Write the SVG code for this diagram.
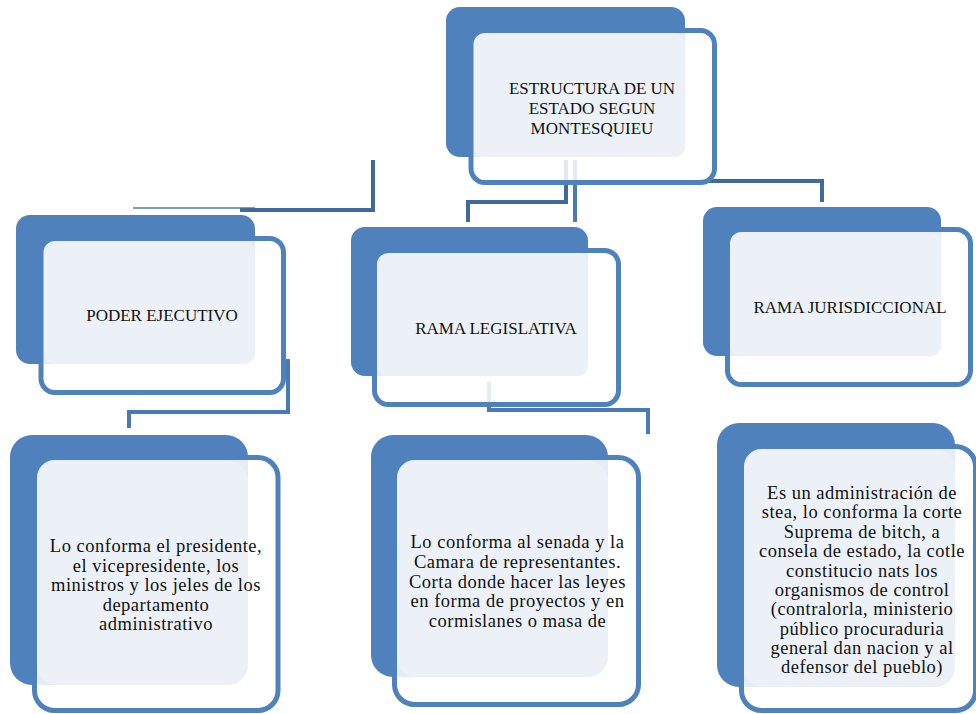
<svg xmlns="http://www.w3.org/2000/svg" width="976" height="714" viewBox="0 0 976 714">
<style>
.dk{fill:#4F81BD}
.lt{fill:#ECF1F8}
.wb{fill:#FFFFFF;fill-opacity:0.85;stroke:none}
.ol{fill:none;stroke:#4F81BD;stroke-width:5}
.c1{fill:none;stroke:#41699D;stroke-width:4}
.c2{fill:none;stroke:#4A7AB6;stroke-width:4}
.c3{fill:none;stroke:#7C9CC8;stroke-width:2}
.t{font-family:"Liberation Serif","Times New Roman",serif;font-size:17px;fill:#111;text-anchor:middle}
.b{font-family:"Liberation Serif","Times New Roman",serif;font-size:18.5px;letter-spacing:0.5px;fill:#111;text-anchor:middle}
</style>
<rect width="976" height="714" fill="#FFFFFF"/>
<g id="connectors">
<path class="c3" d="M133,208 H255"/>
<path class="c1" d="M240,210 H373 V160"/>
<path class="c1" d="M468,222 V202 H566 V160"/>
<path class="c2" d="M575,160 V222"/>
<path class="c1" d="M700,181 H822 V202"/>
<path class="c2" d="M288,359 V412 H129 V428"/>
<path class="c2" d="M489,382 V410 H648 V434"/>
</g>
<g id="n0">
<rect class="dk" x="446" y="7" width="239" height="150" rx="14"/>
<rect class="wb" x="471" y="30.5" width="243.5" height="152" rx="14"/>
<rect class="lt" x="473.5" y="33" width="211.5" height="124" rx="10"/>
<rect class="ol" x="471" y="30.5" width="243.5" height="152" rx="14"/>
<text class="t" x="592" y="94">ESTRUCTURA DE UN</text>
<text class="t" x="592" y="114">ESTADO SEGUN</text>
<text class="t" x="592" y="134">MONTESQUIEU</text>
</g>
<g id="n1">
<rect class="dk" x="16" y="215" width="239" height="149" rx="14"/>
<rect class="wb" x="41" y="238.5" width="242.5" height="154" rx="14"/>
<rect class="lt" x="43.5" y="241" width="211.5" height="123" rx="10"/>
<rect class="ol" x="41" y="238.5" width="242.5" height="154" rx="14"/>
<text class="t" x="162" y="321">PODER EJECUTIVO</text>
</g>
<g id="n2">
<rect class="dk" x="351" y="227" width="237" height="149" rx="14"/>
<rect class="wb" x="374.5" y="250.5" width="244" height="154" rx="14"/>
<rect class="lt" x="377" y="253" width="211" height="123" rx="10"/>
<rect class="ol" x="374.5" y="250.5" width="244" height="154" rx="14"/>
<text class="t" x="496" y="334">RAMA LEGISLATIVA</text>
</g>
<g id="n3">
<rect class="dk" x="703" y="207" width="238" height="149" rx="14"/>
<rect class="wb" x="727.5" y="229.5" width="243" height="155" rx="14"/>
<rect class="lt" x="730" y="232" width="211" height="124" rx="10"/>
<rect class="ol" x="727.5" y="229.5" width="243" height="155" rx="14"/>
<text class="t" x="850" y="313">RAMA JURISDICCIONAL</text>
</g>
<g id="n4">
<rect class="dk" x="10" y="435" width="238" height="250" rx="22"/>
<rect class="wb" x="34.5" y="457.5" width="243.5" height="253" rx="20"/>
<rect class="lt" x="37" y="461" width="211" height="224" rx="20"/>
<rect class="ol" x="34.5" y="457.5" width="243.5" height="253" rx="20"/>
<text class="b" x="156" y="552">Lo conforma el presidente,</text>
<text class="b" x="156" y="572">el vicepresidente, los</text>
<text class="b" x="156" y="591">ministros y los jeles de los</text>
<text class="b" x="156" y="611">departamento</text>
<text class="b" x="156" y="630">administrativo</text>
</g>
<g id="n5">
<rect class="dk" x="371" y="435" width="237" height="242" rx="22"/>
<rect class="wb" x="394.5" y="457.5" width="244" height="247" rx="20"/>
<rect class="lt" x="397" y="461" width="211" height="216" rx="20"/>
<rect class="ol" x="394.5" y="457.5" width="244" height="247" rx="20"/>
<text class="b" x="517.5" y="548">Lo conforma al senada y la</text>
<text class="b" x="517.5" y="568">Camara de representantes.</text>
<text class="b" x="517.5" y="588">Corta donde hacer las leyes</text>
<text class="b" x="517.5" y="607">en forma de proyectos y en</text>
<text class="b" x="517.5" y="627">cormislanes o masa de</text>
</g>
<g id="n6">
<rect class="dk" x="717" y="423" width="238" height="264" rx="22"/>
<rect class="wb" x="741.5" y="446.5" width="234" height="264" rx="20"/>
<rect class="lt" x="743" y="449" width="212" height="238" rx="20"/>
<rect class="ol" x="741.5" y="446.5" width="234" height="264" rx="20"/>
<text class="b" x="862" y="499">Es un administración de</text>
<text class="b" x="862" y="518">stea, lo conforma la corte</text>
<text class="b" x="862" y="538">Suprema de bitch, a</text>
<text class="b" x="862" y="557">consela de estado, la cotle</text>
<text class="b" x="862" y="577">constitucio nats los</text>
<text class="b" x="862" y="596">organismos de control</text>
<text class="b" x="862" y="615">(contralorla, ministerio</text>
<text class="b" x="862" y="635">público procuraduria</text>
<text class="b" x="862" y="654">general dan nacion y al</text>
<text class="b" x="862" y="673">defensor del pueblo)</text>
</g>
</svg>
